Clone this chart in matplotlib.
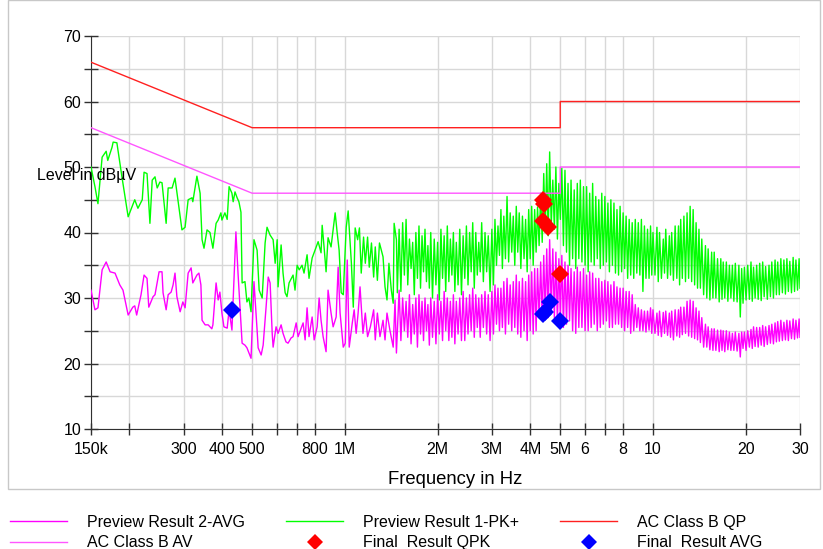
import numpy as np
import matplotlib
matplotlib.use('Agg')
import matplotlib.pyplot as plt
from matplotlib.lines import Line2D
from matplotlib.patches import Rectangle
from matplotlib.ticker import FixedLocator, NullLocator

plt.rcParams['font.family'] = ['Liberation Sans', 'DejaVu Sans']

# ---- data (MHz / dBuV) -------------------------------------------------
# Preview Result 1-PK+, low band (150 kHz .. 1.5 MHz)
pk_f_low = [0.150, 0.1545, 0.158, 0.163, 0.168, 0.170, 0.1755, 0.177, 0.182, 0.189,
            0.198, 0.208, 0.213, 0.220, 0.223, 0.228, 0.233, 0.237, 0.242, 0.246,
            0.251, 0.255, 0.263, 0.267, 0.275, 0.281, 0.296, 0.303, 0.310, 0.319,
            0.321, 0.331, 0.339, 0.344, 0.349, 0.357, 0.365, 0.373, 0.382, 0.388,
            0.396, 0.399, 0.408, 0.415, 0.421, 0.430, 0.434, 0.440, 0.447, 0.453,
            0.460, 0.464, 0.474, 0.481, 0.488, 0.496, 0.507, 0.519, 0.527, 0.539,
            0.551, 0.559, 0.572, 0.585, 0.594, 0.603, 0.607, 0.621, 0.630, 0.640,
            0.649, 0.659, 0.679, 0.689, 0.700, 0.711, 0.726, 0.737, 0.754, 0.765,
            0.783, 0.819, 0.837, 0.844, 0.856, 0.869, 0.882, 0.902, 0.916, 0.930,
            0.944, 0.958, 0.973, 0.988, 1.010, 1.025, 1.050, 1.065, 1.080, 1.100,
            1.115, 1.130, 1.150, 1.165, 1.185, 1.200, 1.220, 1.240, 1.255, 1.275,
            1.295, 1.330, 1.350, 1.370, 1.390, 1.415, 1.435, 1.445, 1.470, 1.480]
pk_db_low = [50.0, 47.0, 44.4, 51.5, 52.4, 51.0, 53.0, 53.8, 53.7, 48.5,
             42.4, 45.0, 43.7, 45.0, 49.2, 49.0, 41.4, 48.0, 48.5, 46.8,
             47.7, 47.6, 41.4, 46.8, 46.8, 48.3, 40.4, 40.8, 45.0, 45.3,
             44.7, 48.6, 46.0, 38.9, 37.6, 40.4, 40.0, 37.6, 41.4, 41.9,
             43.0, 41.9, 43.0, 42.0, 47.0, 46.0, 44.7, 46.2, 45.3, 44.7,
             43.1, 32.3, 32.5, 29.4, 30.0, 27.9, 38.9, 37.3, 31.2, 30.0,
             38.4, 40.8, 39.6, 38.9, 35.3, 38.9, 31.7, 38.1, 33.8, 30.8,
             30.2, 32.3, 33.5, 31.2, 35.0, 34.3, 35.0, 33.8, 36.6, 33.0,
             36.1, 38.6, 36.9, 41.1, 37.8, 34.0, 39.2, 37.8, 40.4, 43.0,
             40.0, 37.3, 30.8, 30.5, 40.8, 43.3, 35.3, 28.6, 40.7, 38.9,
             40.7, 33.8, 39.3, 35.3, 39.3, 34.7, 38.4, 33.2, 37.8, 32.7,
             38.4, 36.3, 31.7, 29.7, 35.3, 31.2, 29.2, 41.4, 38.9, 30.8]

# Preview Result 2-AVG, low band
avg_f_low = [0.150, 0.1545, 0.158, 0.163, 0.168, 0.173, 0.1795, 0.186, 0.1905, 0.198,
             0.205, 0.208, 0.211, 0.218, 0.223, 0.228, 0.231, 0.2385, 0.242, 0.2495,
             0.255, 0.257, 0.263, 0.267, 0.273, 0.277, 0.281, 0.285, 0.292, 0.298,
             0.303, 0.310, 0.317, 0.321, 0.331, 0.336, 0.341, 0.344, 0.352, 0.360,
             0.370, 0.373, 0.382, 0.388, 0.393, 0.399, 0.405, 0.415, 0.421, 0.430,
             0.443, 0.450, 0.464, 0.474, 0.481, 0.496, 0.507, 0.519, 0.523, 0.535,
             0.543, 0.555, 0.564, 0.572, 0.581, 0.585, 0.598, 0.607, 0.621, 0.630,
             0.644, 0.654, 0.669, 0.679, 0.695, 0.705, 0.732, 0.743, 0.754, 0.765,
             0.783, 0.795, 0.813, 0.825, 0.837, 0.850, 0.869, 0.882, 0.902, 0.916,
             0.937, 0.951, 0.965, 0.988, 1.003, 1.018, 1.033, 1.057, 1.072, 1.088,
             1.104, 1.120, 1.145, 1.165, 1.185, 1.210, 1.240, 1.255, 1.275, 1.300,
             1.330, 1.350, 1.370, 1.400, 1.435, 1.455, 1.470]
avg_db_low = [31.2, 28.2, 28.5, 34.3, 35.5, 34.0, 33.8, 32.0, 31.2, 27.4,
              28.6, 28.8, 27.4, 30.5, 33.5, 33.0, 28.6, 30.2, 30.5, 34.0,
              34.0, 30.8, 28.2, 30.5, 30.9, 32.0, 33.8, 30.2, 27.9, 29.4,
              28.5, 33.8, 34.6, 32.3, 33.5, 33.8, 32.0, 26.6, 25.9, 25.9,
              25.3, 25.9, 32.3, 29.7, 30.9, 27.7, 25.6, 25.4, 28.2, 25.1,
              40.1, 33.8, 23.1, 22.8, 22.4, 20.8, 32.5, 25.1, 22.4, 21.3,
              22.8, 28.6, 33.2, 32.3, 24.6, 22.5, 25.6, 24.6, 25.9, 24.6,
              23.3, 23.1, 23.9, 24.1, 26.2, 24.1, 26.2, 23.6, 28.5, 24.1,
              27.1, 23.6, 25.6, 30.0, 26.6, 24.1, 21.8, 31.2, 27.7, 25.6,
              27.1, 34.7, 27.7, 22.5, 23.1, 35.8, 22.5, 26.2, 28.2, 24.6,
              27.7, 31.7, 24.6, 27.7, 24.1, 25.6, 28.2, 23.6, 27.7, 24.1,
              26.6, 23.6, 27.7, 25.1, 22.5, 29.7, 21.6]

# common sweep points, high band (1.5 MHz .. 30 MHz)
sweep_f_high = [
    1.50, 1.52, 1.54, 1.56, 1.58, 1.60, 1.62, 1.64, 1.66, 1.68, 1.70, 1.72, 1.74, 1.76, 1.78, 1.80, 1.82, 1.84, 1.86, 1.88,
    1.90, 1.925, 1.95, 1.975, 2.00, 2.025, 2.05, 2.075, 2.10, 2.125, 2.15, 2.175, 2.20, 2.225, 2.25, 2.275, 2.30, 2.33, 2.36, 2.39,
    2.42, 2.45, 2.48, 2.51, 2.54, 2.57, 2.60, 2.63, 2.66, 2.69, 2.72, 2.75, 2.78, 2.815, 2.85, 2.885, 2.92, 2.96, 3.00, 3.035,
    3.07, 3.105, 3.14, 3.175, 3.21, 3.245, 3.28, 3.32, 3.36, 3.40, 3.44, 3.48, 3.52, 3.56, 3.60, 3.64, 3.68, 3.725, 3.77, 3.815,
    3.86, 3.905, 3.95, 3.995, 4.04, 4.085, 4.13, 4.175, 4.22, 4.27, 4.32, 4.37, 4.42, 4.47, 4.52, 4.57, 4.62, 4.675, 4.73, 4.785,
    4.84, 4.895, 4.95, 5.005, 5.06, 5.12, 5.18, 5.24, 5.30, 5.36, 5.42, 5.485, 5.55, 5.615, 5.68, 5.745, 5.81, 5.88, 5.95, 6.02,
    6.09, 6.16, 6.23, 6.30, 6.37, 6.445, 6.52, 6.595, 6.67, 6.745, 6.82, 6.90, 6.98, 7.06, 7.14, 7.22, 7.30, 7.385, 7.47, 7.555,
    7.64, 7.73, 7.82, 7.91, 8.00, 8.09, 8.18, 8.275, 8.37, 8.465, 8.56, 8.66, 8.76, 8.86, 8.96, 9.065, 9.17, 9.275, 9.38, 9.49,
    9.60, 9.71, 9.82, 9.91, 10.0, 10.15, 10.3, 10.4, 10.5, 10.65, 10.8, 10.9, 11.0, 11.15, 11.3, 11.4, 11.5, 11.65, 11.8, 11.95,
    12.1, 12.2, 12.3, 12.45, 12.6, 12.75, 12.9, 13.05, 13.2, 13.35, 13.5, 13.65, 13.8, 13.95, 14.1, 14.25, 14.4, 14.6, 14.8, 14.95,
    15.1, 15.3, 15.5, 15.65, 15.8, 16.0, 16.2, 16.4, 16.6, 16.75, 16.9, 17.1, 17.3, 17.5, 17.7, 17.9, 18.1, 18.3, 18.5, 18.75,
    19.0, 19.2, 19.4, 19.6, 19.8, 20.05, 20.3, 20.55, 20.8, 21.0, 21.2, 21.45, 21.7, 21.95, 22.2, 22.45, 22.7, 22.95, 23.2, 23.5,
    23.8, 24.05, 24.3, 24.6, 24.9, 25.15, 25.4, 25.7, 26.0, 26.3, 26.6, 26.9, 27.2, 27.5, 27.8, 28.15, 28.5, 28.8, 29.1, 29.45,
    29.8, 30.0]
pk_db_high = [
    40.5, 31.0, 41.5, 33.5, 42.0, 32.0, 39.0, 34.5, 38.5, 30.5, 40.0, 33.0, 41.0, 31.5, 39.5, 34.0, 40.5, 32.5, 38.0, 31.5,
    40.0, 30.0, 39.0, 32.0, 38.5, 29.7, 40.5, 33.0, 39.5, 31.0, 41.0, 32.5, 39.0, 33.5, 40.0, 31.0, 38.5, 32.0, 40.5, 30.5,
    39.5, 33.0, 41.0, 32.0, 40.0, 34.0, 41.5, 31.5, 40.0, 33.5, 38.5, 34.0, 41.5, 32.5, 40.0, 34.0, 39.5, 31.0, 40.5, 32.0,
    42.0, 35.0, 41.0, 36.5, 43.5, 34.5, 42.5, 36.0, 45.5, 35.5, 43.0, 37.0, 42.5, 35.0, 44.0, 37.0, 43.0, 34.5, 42.5, 36.0,
    42.0, 34.0, 43.5, 36.0, 44.0, 35.0, 43.5, 37.0, 43.9, 38.0, 46.0, 38.5, 49.0, 40.0, 50.5, 39.5, 52.3, 41.0, 48.0, 40.5,
    50.0, 39.0, 47.5, 42.0, 49.8, 38.0, 49.5, 37.0, 47.5, 35.0, 48.0, 36.0, 46.5, 34.5, 47.5, 36.0, 48.0, 35.5, 47.0, 35.0,
    47.0, 34.0, 46.0, 35.5, 47.5, 35.0, 45.5, 36.0, 45.0, 34.5, 46.0, 35.0, 45.5, 35.5, 44.5, 34.0, 45.0, 35.0, 44.5, 33.8,
    43.5, 33.5, 44.0, 34.0, 43.0, 34.5, 42.5, 33.0, 42.0, 33.5, 41.5, 33.0, 42.0, 33.8, 41.5, 33.5, 42.0, 31.0, 41.0, 33.0,
    40.5, 33.0, 41.0, 33.5, 40.0, 33.5, 40.8, 32.5, 40.0, 33.0, 39.0, 33.8, 40.5, 33.0, 39.5, 33.5, 40.0, 32.7, 41.0, 33.0,
    41.0, 32.0, 42.0, 33.0, 42.5, 32.5, 43.0, 33.0, 44.0, 32.5, 43.5, 32.0, 41.5, 31.5, 40.5, 31.5, 39.0, 30.5, 38.0, 30.0,
    37.5, 29.7, 37.0, 30.0, 37.0, 30.0, 36.0, 29.4, 36.0, 29.8, 35.5, 30.0, 35.5, 29.5, 35.0, 30.0, 35.0, 29.5, 35.3, 29.4,
    35.0, 27.1, 34.5, 29.2, 34.7, 29.7, 35.0, 29.8, 35.5, 29.5, 34.7, 30.0, 35.0, 29.8, 35.3, 29.6, 35.5, 30.2, 34.8, 29.8,
    35.0, 30.2, 35.5, 30.0, 35.8, 30.5, 35.5, 30.5, 36.0, 30.8, 35.8, 30.6, 36.0, 31.0, 35.6, 30.8, 36.2, 31.0, 35.8, 31.2,
    36.0, 31.5]
avg_db_high = [
    31.2, 23.5, 30.0, 25.0, 29.5, 24.0, 30.5, 23.0, 29.0, 24.5, 30.0, 22.5, 30.5, 24.5, 29.5, 23.5, 30.0, 25.0, 29.0, 22.8,
    30.0, 24.0, 29.5, 23.0, 30.5, 24.5, 29.5, 23.5, 31.0, 25.0, 30.0, 23.5, 29.5, 24.0, 30.5, 23.0, 29.5, 24.5, 30.0, 23.5,
    31.0, 23.5, 30.0, 24.5, 30.5, 25.0, 31.5, 24.0, 30.5, 25.5, 30.0, 24.0, 30.5, 25.5, 31.0, 24.5, 30.5, 23.5, 31.0, 24.5,
    32.0, 26.0, 31.5, 25.0, 31.5, 25.5, 32.5, 24.5, 33.0, 26.0, 32.0, 25.0, 32.5, 25.5, 33.5, 24.5, 32.5, 24.0, 33.0, 25.0,
    32.5, 23.5, 33.5, 25.0, 34.0, 24.5, 34.5, 25.0, 34.5, 27.0, 35.5, 26.5, 36.5, 27.5, 37.5, 27.0, 38.9, 28.0, 37.5, 27.0,
    37.0, 26.0, 36.0, 27.0, 36.5, 25.5, 35.5, 26.0, 35.0, 26.5, 34.5, 25.0, 34.0, 24.6, 34.7, 25.5, 34.0, 25.5, 34.5, 25.0,
    33.5, 25.0, 34.0, 25.5, 33.8, 26.0, 33.0, 25.0, 33.0, 25.5, 32.5, 26.0, 32.7, 26.5, 32.5, 25.5, 32.0, 25.5, 32.5, 26.0,
    31.7, 26.0, 31.5, 25.5, 31.5, 25.0, 31.0, 25.5, 31.0, 24.6, 30.5, 25.0, 29.0, 25.5, 28.5, 25.0, 28.2, 25.0, 28.0, 24.8,
    28.0, 25.1, 28.5, 24.6, 28.2, 24.6, 27.7, 24.3, 28.0, 24.1, 27.8, 24.6, 28.0, 24.3, 27.7, 24.0, 28.0, 23.6, 28.2, 24.2,
    28.2, 24.0, 28.6, 24.4, 28.6, 24.6, 29.5, 24.2, 29.7, 24.0, 29.5, 23.8, 28.5, 23.6, 28.0, 23.2, 27.0, 22.5, 26.0, 22.5,
    25.6, 22.1, 25.3, 22.0, 25.3, 22.0, 25.1, 21.8, 25.1, 22.0, 25.0, 21.8, 25.0, 22.1, 24.8, 22.0, 24.6, 22.0, 24.8, 21.9,
    24.6, 21.0, 24.8, 22.3, 24.8, 22.0, 25.0, 22.5, 25.2, 22.3, 25.6, 22.6, 25.5, 22.5, 25.5, 22.8, 25.8, 22.6, 25.6, 22.9,
    25.8, 23.1, 26.0, 23.0, 26.2, 23.3, 26.4, 23.4, 26.6, 23.5, 26.3, 23.6, 26.6, 23.5, 26.5, 23.8, 26.8, 23.7, 26.6, 23.9,
    26.8, 24.0]

# limit lines (class B)
lim_f = [0.15, 0.5, 0.5, 5.0, 5.0, 30.0]
qp_limit = [66, 56, 56, 56, 60, 60]
av_limit = [56, 46, 46, 46, 50, 50]

# final measurements
qpk_f = [4.40, 4.44, 4.40, 4.55, 5.00]
qpk_db = [44.9, 44.4, 41.8, 40.9, 33.6]
avg_final_f = [0.43, 4.40, 4.45, 4.63, 5.00]
avg_final_db = [28.2, 27.6, 27.9, 29.4, 26.5]

tick_f = [0.15, 0.2, 0.3, 0.4, 0.5, 0.6, 0.7, 0.8, 1, 2, 3, 4, 5, 6, 7, 8, 10, 20, 30]
tick_lbl = ['150k', '', '300', '400', '500', '', '', '800', '1M', '2M', '3M', '4M',
            '5M', '6', '', '8', '10', '20', '30']

# ---- plot -------------------------------------------------------------
MHZ = 1e6
FS = 11.5
fig = plt.figure(figsize=(8.23, 5.49), dpi=100)
fig.add_artist(Rectangle((8 / 823, 1 - 489 / 549), 812 / 823, 489 / 549,
                         transform=fig.transFigure, fill=False,
                         edgecolor='#c8c8c8', lw=1))
ax = fig.add_axes([91 / 823, 1 - 429 / 549, 709 / 823, 393 / 549])

pk_f = np.array(pk_f_low + sweep_f_high) * MHZ
pk_db = pk_db_low + pk_db_high
avg_f = np.array(avg_f_low + sweep_f_high) * MHZ
avg_db = avg_db_low + avg_db_high

ax.plot(pk_f, pk_db, color='#00ff00', lw=1, zorder=3)
ax.plot(avg_f, avg_db, color='#ff00ff', lw=1, zorder=4)
ax.plot(np.array(lim_f) * MHZ, qp_limit, color='#ff2020', lw=1, zorder=5)
ax.plot(np.array(lim_f) * MHZ, av_limit, color='#ff55ff', lw=1, zorder=5)
ax.plot(np.array(qpk_f) * MHZ, qpk_db, 'D', color='#ff0000', ms=9, mew=0, zorder=6)
ax.plot(np.array(avg_final_f) * MHZ, avg_final_db, 'D', color='#0000ff', ms=9, mew=0, zorder=6)

ax.set_xscale('log')
ax.set_xlim(0.15 * MHZ, 30 * MHZ)
ax.set_ylim(10, 70)
ax.xaxis.set_major_locator(FixedLocator([f * MHZ for f in tick_f]))
ax.xaxis.set_minor_locator(NullLocator())
ax.set_xticklabels(tick_lbl)
ax.set_yticks(range(10, 71, 10))
ax.set_yticks(range(15, 70, 10), minor=True)

ax.grid(True, which='both', color='#d8d8d8', lw=1, zorder=0)
ax.set_axisbelow(True)
for s in ('top', 'right'):
    ax.spines[s].set_visible(False)
for s in ('left', 'bottom'):
    ax.spines[s].set_color('#303030')
ax.tick_params(axis='y', which='both', direction='inout', length=10, width=1,
               color='#303030', labelsize=FS, pad=2)
ax.tick_params(axis='x', which='both', direction='inout', length=9, width=1,
               color='#303030', labelsize=FS, pad=5)

fig.text(37 / 823, 1 - 175 / 549, 'Level in dBµV', fontsize=FS, ha='left', va='center')
fig.text(455 / 823, 1 - 480 / 549, 'Frequency in Hz', fontsize=13.3, ha='center', va='center')

handles = [
    Line2D([], [], color='#ff00ff', lw=1),
    Line2D([], [], color='#ff55ff', lw=1),
    Line2D([], [], color='#00ff00', lw=1),
    Line2D([], [], ls='none', marker='D', color='#ff0000', ms=8, mew=0),
    Line2D([], [], color='#ff2020', lw=1),
    Line2D([], [], ls='none', marker='D', color='#0000ff', ms=8, mew=0),
]
labels = ['Preview Result 2-AVG', 'AC Class B AV', 'Preview Result 1-PK+',
          'Final  Result QPK', 'AC Class B QP', 'Final  Result AVG']
fig.legend(handles, labels, ncol=3, loc='upper left', frameon=False,
           bbox_to_anchor=(10 / 823, 1 - 515 / 549), fontsize=FS,
           handlelength=3.55, handletextpad=1.25, columnspacing=2.6,
           labelspacing=0.34, borderaxespad=0, borderpad=0)

fig.savefig('out.png', dpi=100)
